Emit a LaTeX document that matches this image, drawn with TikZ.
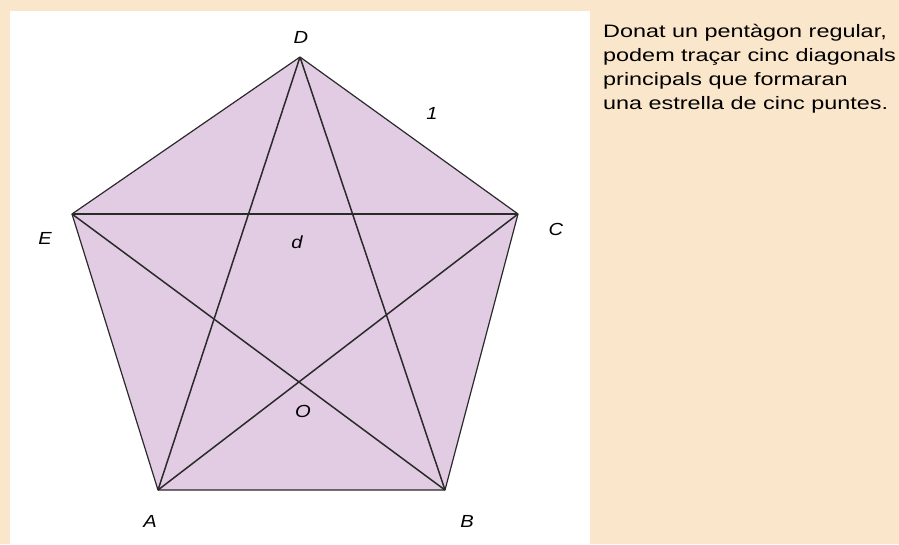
\documentclass[tikz,border=0pt]{standalone}
\usepackage{fontspec}
\setmainfont{Liberation Sans}
\newfontfamily\widefont[FakeStretch=1.3]{Liberation Sans}
\newfontfamily\widelbl[FakeStretch=1.15]{Liberation Sans}
\definecolor{peach}{HTML}{FAE6CA}
\definecolor{lilac}{HTML}{E2CCE4}
\definecolor{ink}{HTML}{2A2A2A}
\begin{document}
\begin{tikzpicture}[x=1pt,y=-1pt,
  lbl/.style={font=\widelbl\fontsize{17.5}{17.5}\selectfont\itshape, text=black, inner sep=0pt},
  edge/.style={draw=ink, line width=1.2pt},
  diag/.style={draw=ink, line width=1.5pt},
  txt/.style={font=\widefont\fontsize{18}{24}\selectfont, text=black, align=left, inner sep=0pt, anchor=north west}]
\useasboundingbox (0,0) rectangle (899,544);
\fill[peach] (0,0) rectangle (899,544);
\fill[white] (10,11) rectangle (590,544);
\coordinate (D) at (300,57);
\coordinate (C) at (518,214);
\coordinate (B) at (445,490);
\coordinate (A) at (158,490);
\coordinate (E) at (72,214);
\fill[lilac] (D) -- (C) -- (B) -- (A) -- (E) -- cycle;
\draw[edge, line join=round] (D) -- (C) -- (B) -- (A) -- (E) -- cycle;
\draw[diag] (D) -- (A);
\draw[diag] (D) -- (B);
\draw[diag] (E) -- (C);
\draw[diag] (E) -- (B);
\draw[diag] (A) -- (C);
\node[lbl] (lD) at (301,37) {D};
\node[lbl] (l1) at (432,113) {1};
\node[lbl] (lE) at (45,238) {E};
\node[lbl] (lC) at (556,229) {C};
\node[lbl] (ld) at (297,242) {d};
\node[lbl] (lO) at (303,411) {O};
\node[lbl] (lA) at (150,521) {A};
\node[lbl] (lB) at (467,521) {B};
\node[txt] (t) at (603,24) {Donat un pentàgon regular,\\podem traçar cinc diagonals\\principals que formaran\\una estrella de cinc puntes.};
\end{tikzpicture}
\end{document}
